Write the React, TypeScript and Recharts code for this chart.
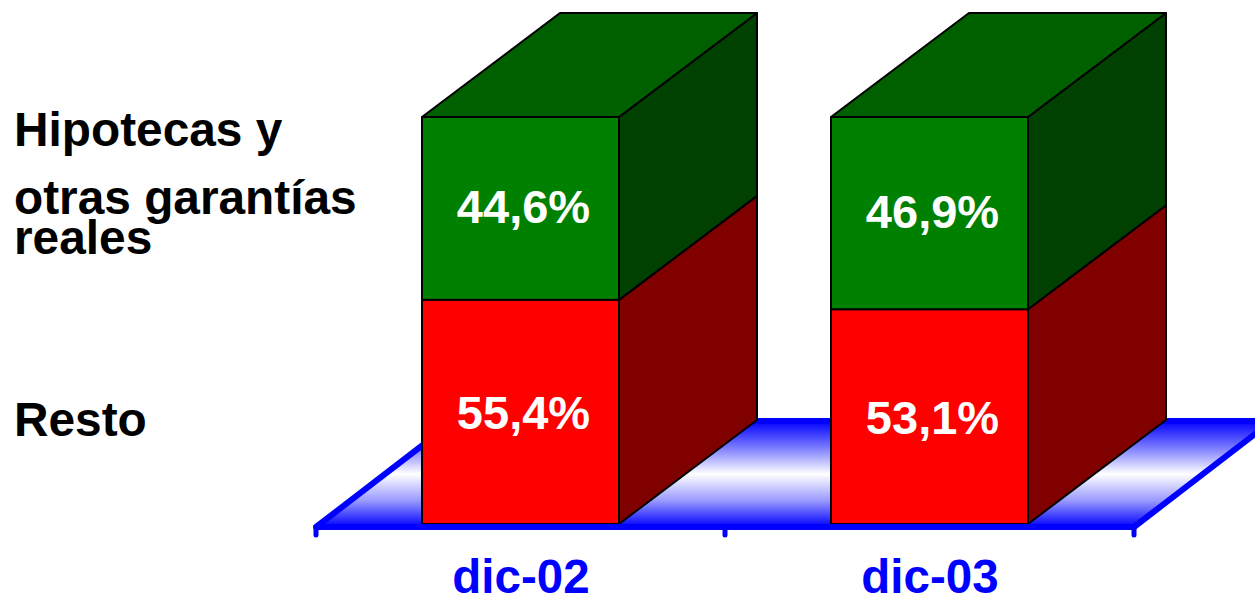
import React from "react";
import { BarChart, Bar, XAxis, YAxis, LabelList, ReferenceArea } from "recharts";

const periods = ["dic-02", "dic-03"];
const resto = [55.4, 53.1];
const hipotecas = [44.6, 46.9];

const data = periods.map((name, i) => ({ name, resto: resto[i], hipotecas: hipotecas[i] }));

const FONT = "'Liberation Sans', Arial, sans-serif";
const DX = 138;
const DY = 104;
const BLUE = "#0000ff";

function formatPct(v: number): string {
  return v.toFixed(1).replace(".", ",") + "%";
}

// front, side and top faces of one stacked segment
function box(front: string, side: string, top: string | null, inset: number) {
  return function BoxShape(props: any) {
    const { x, y, width, height } = props;
    const r = x + width;
    const b = y + height - inset;
    return (
      <g stroke="#000" strokeWidth={2} strokeLinejoin="round">
        <polygon points={`${r},${y} ${r + DX},${y - DY} ${r + DX},${b - DY} ${r},${b}`} fill={side} />
        {top && (
          <polygon points={`${x},${y} ${x + DX},${y - DY} ${r + DX},${y - DY} ${r},${y}`} fill={top} />
        )}
        <rect x={x} y={y} width={width} height={b - y} fill={front} />
      </g>
    );
  };
}

function Floor(props: any) {
  const { x, y, width, height } = props;
  const left = x;
  const mid = x + width / 2;
  const right = x + width;
  const b = y + height;
  const back = b - DY - 2;
  return (
    <g>
      <defs>
        <linearGradient id="floorFill" x1="0" y1="0" x2="0" y2="1">
          <stop offset="0" stopColor={BLUE} />
          <stop offset="0.25" stopColor="#7a7aff" />
          <stop offset="0.5" stopColor="#ffffff" />
          <stop offset="0.75" stopColor="#9a9aff" />
          <stop offset="1" stopColor={BLUE} />
        </linearGradient>
      </defs>
      <polygon
        points={`${left},${b} ${left + DX},${back} ${right + DX},${back} ${right},${b}`}
        fill="url(#floorFill)"
        stroke={BLUE}
        strokeWidth={6}
        strokeLinejoin="round"
      />
      {[left, mid, right].map((tx) => (
        <line key={tx} x1={tx} x2={tx} y1={b} y2={b + 8} stroke={BLUE} strokeWidth={5} strokeLinecap="round" />
      ))}
    </g>
  );
}

function PeriodTick(props: any) {
  const { x, payload } = props;
  return (
    <text x={x + 0.5} y={593} textAnchor="middle" fontFamily={FONT} fontWeight="bold" fontSize={47.5} fill={BLUE}>
      {payload.value}
    </text>
  );
}

const legendLines = ["Hipotecas y", "otras garantías", "reales", "Resto"];
const legendBaselines = [146, 214, 254, 436];

export default function App() {
  return (
    <div style={{ position: "absolute", left: 0, top: 0, width: 1255, height: 597, background: "#fff" }}>
      <BarChart
        width={1255}
        height={597}
        data={data}
        barSize={197}
        margin={{ top: 117, right: 121, bottom: 0, left: 316 }}
      >
        <XAxis
          dataKey="name"
          height={70}
          interval={0}
          tickLine={false}
          axisLine={{ stroke: BLUE, strokeWidth: 6 }}
          tick={PeriodTick}
        />
        <YAxis hide domain={[0, 100]} />
        <ReferenceArea x1="dic-02" x2="dic-03" y1={0} y2={100} shape={Floor} ifOverflow="visible" />
        <Bar dataKey="resto" stackId="a" isAnimationActive={false} shape={box("#ff0000", "#800000", null, 3)}>
          <LabelList
            dataKey="resto"
            position="center"
            formatter={formatPct}
            fill="#fff"
            fontFamily={FONT}
            fontWeight="bold"
            fontSize={47}
            dx={3}
            dy={-1}
          />
        </Bar>
        <Bar dataKey="hipotecas" stackId="a" isAnimationActive={false} shape={box("#008000", "#004000", "#006000", 0)}>
          <LabelList
            dataKey="hipotecas"
            position="center"
            formatter={formatPct}
            fill="#fff"
            fontFamily={FONT}
            fontWeight="bold"
            fontSize={47}
            dx={3}
            dy={-2}
          />
        </Bar>
      </BarChart>
      <svg width={400} height={597} style={{ position: "absolute", left: 0, top: 0 }}>
        {legendLines.map((line, i) => (
          <text key={line} x={14} y={legendBaselines[i]} fontFamily={FONT} fontWeight="bold" fontSize={47.8} fill="#000">
            {line}
          </text>
        ))}
      </svg>
    </div>
  );
}
